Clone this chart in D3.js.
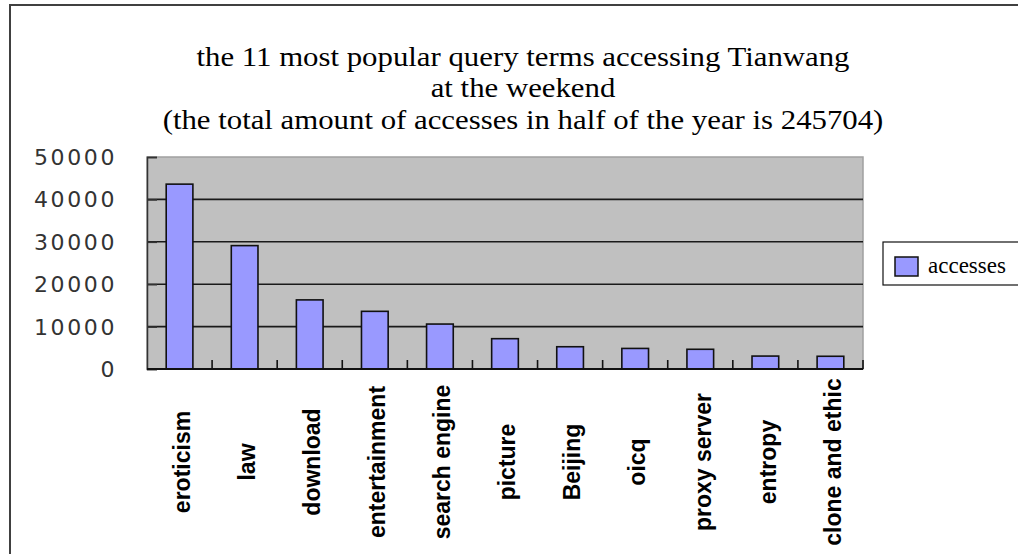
<!DOCTYPE html>
<html>
<head>
<meta charset="utf-8">
<script src="https://cdn.jsdelivr.net/npm/d3@7"></script>
<style>
    html, body { margin: 0; padding: 0; background: #fff; }
    svg { display: block; }
</style>
</head>
<body>
<div id="chart"></div>
<script>
// data
const terms = ["eroticism", "law", "download", "entertainment", "search engine",
    "picture", "Beijing", "oicq", "proxy server", "entropy", "clone and ethic"];
const accesses = [43600, 29100, 16300, 13600, 10600, 7150, 5250, 4850, 4650, 3050, 3000];
const yTicks = [0, 10000, 20000, 30000, 40000, 50000];
const titleLines = [
    "the 11 most popular query terms accessing Tianwang",
    "at the weekend",
    "(the total amount of accesses in half of the year is 245704)"
];
const seriesName = "accesses";

let width = 1018,
    height = 554;

let plot = { left: 147, top: 157, right: 863, bottom: 369 };

let svg = d3.select("#chart")
    .append("svg")
    .attr("width", width)
    .attr("height", height);

// outer frame (runs off the right and bottom edge)
svg.append("rect")
    .attr("x", 10)
    .attr("y", 5)
    .attr("width", width + 20)
    .attr("height", height + 20)
    .attr("fill", "#fff")
    .attr("stroke", "#404040")
    .attr("stroke-width", 2);

// title - the original face is narrow and wide-set, so stretch it a bit sideways
svg.append("g")
    .attr("transform", "translate(523,0) scale(1.1,1)")
    .selectAll("text")
    .data(titleLines)
    .enter()
    .append("text")
    .attr("x", 0)
    .attr("y", (d, i) => 66 + i * 31.5)
    .attr("text-anchor", "middle")
    .style("font-family", "'Liberation Serif', 'Times New Roman', serif")
    .style("font-size", "28px")
    .text(d => d);

let x = d3.scaleBand()
    .domain(terms)
    .range([plot.left, plot.right])
    .paddingInner(0.59)
    .paddingOuter(0.295);

let y = d3.scaleLinear()
    .domain([0, 50000])
    .range([plot.bottom, plot.top]);

// plot area
svg.append("rect")
    .attr("x", plot.left)
    .attr("y", plot.top)
    .attr("width", plot.right - plot.left)
    .attr("height", plot.bottom - plot.top)
    .attr("fill", "#c0c0c0")
    .attr("stroke", "#a0a0a0")
    .attr("stroke-width", 1.5);

// gridlines
svg.append("g")
    .selectAll("line")
    .data(yTicks.filter(d => d > 0 && d < 50000))
    .enter()
    .append("line")
    .attr("x1", plot.left)
    .attr("x2", plot.right)
    .attr("y1", d => y(d))
    .attr("y2", d => y(d))
    .attr("stroke", "#1a1a1a")
    .attr("stroke-width", 1.6);

// y axis, ticks inside
let yAxis = svg.append("g")
    .attr("transform", `translate(${plot.left},0)`)
    .call(d3.axisRight(y).tickValues(yTicks).tickSize(10).tickFormat(""));
yAxis.select(".domain").attr("stroke", "#333").attr("stroke-width", 1.5);
yAxis.selectAll(".tick line").attr("stroke", "#333").attr("stroke-width", 1.6);

svg.append("g")
    .selectAll("text")
    .data(yTicks)
    .enter()
    .append("text")
    .attr("x", 117)
    .attr("y", d => y(d))
    .attr("dy", "0.36em")
    .attr("text-anchor", "end")
    .style("font-family", "'DejaVu Sans', sans-serif")
    .style("font-size", "22px")
    .style("letter-spacing", "2.6px")
    .attr("fill", "#333")
    .text(d => d);

// bars
svg.append("g")
    .selectAll("rect")
    .data(accesses)
    .enter()
    .append("rect")
    .attr("x", (d, i) => x(terms[i]))
    .attr("y", d => y(d))
    .attr("width", x.bandwidth())
    .attr("height", d => y(0) - y(d))
    .attr("fill", "#9999ff")
    .attr("stroke", "#111")
    .attr("stroke-width", 1.6);

// x axis: category boundary ticks pointing up
let bounds = terms.map((t, i) => plot.left + x.step() * (i + 1));
svg.append("g")
    .selectAll("line")
    .data(bounds)
    .enter()
    .append("line")
    .attr("x1", d => d)
    .attr("x2", d => d)
    .attr("y1", plot.bottom)
    .attr("y2", plot.bottom - 9)
    .attr("stroke", "#111")
    .attr("stroke-width", 1.6);

svg.append("line")
    .attr("x1", plot.left)
    .attr("x2", plot.right)
    .attr("y1", plot.bottom)
    .attr("y2", plot.bottom)
    .attr("stroke", "#111")
    .attr("stroke-width", 1.8);

// category labels, rotated
svg.append("g")
    .selectAll("text")
    .data(terms)
    .enter()
    .append("text")
    .attr("transform", d => `translate(${x(d) + x.bandwidth() / 2 + 2},462) rotate(-90)`)
    .attr("dy", "0.36em")
    .attr("text-anchor", "middle")
    .style("font-family", "'Liberation Sans', Arial, sans-serif")
    .style("font-weight", "bold")
    .style("font-size", "23px")
    .text(d => d);

// legend
let legend = svg.append("g");
legend.append("rect")
    .attr("x", 883)
    .attr("y", 242)
    .attr("width", 160)
    .attr("height", 43)
    .attr("fill", "#fff")
    .attr("stroke", "#111")
    .attr("stroke-width", 1.2);
legend.append("rect")
    .attr("x", 895)
    .attr("y", 257)
    .attr("width", 23)
    .attr("height", 19)
    .attr("fill", "#9999ff")
    .attr("stroke", "#111")
    .attr("stroke-width", 1.5);
legend.append("text")
    .attr("x", 928)
    .attr("y", 273)
    .style("font-family", "'Liberation Serif', 'Times New Roman', serif")
    .style("font-size", "23px")
    .text(seriesName);
</script>
</body>
</html>
